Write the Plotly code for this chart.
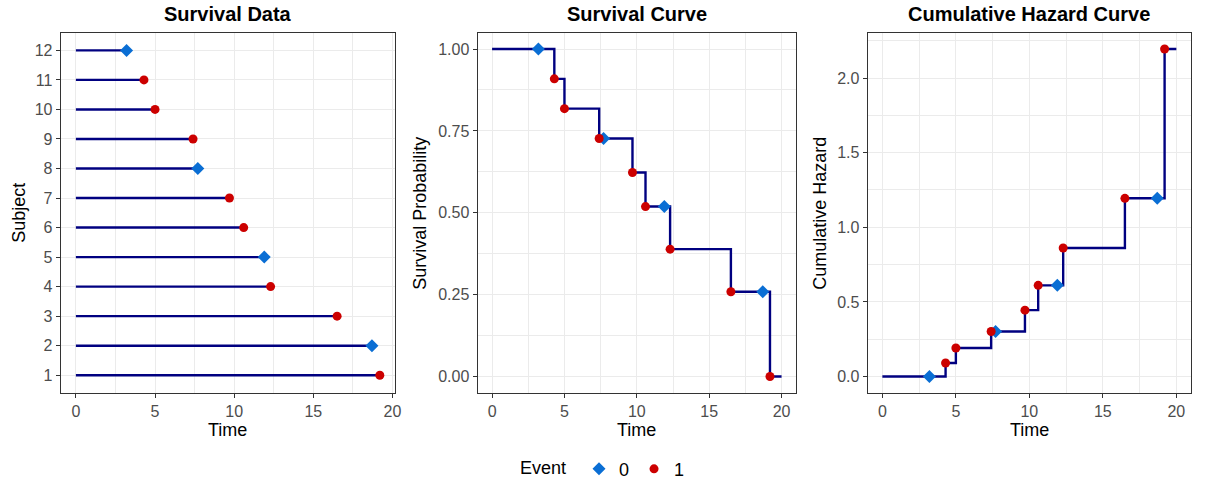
import plotly.graph_objects as go

# ---------------- data ----------------
subjects = [1, 2, 3, 4, 5, 6, 7, 8, 9, 10, 11, 12]
times = [19.2, 18.7, 16.5, 12.3, 11.9, 10.6, 9.7, 7.7, 7.4, 5.0, 4.3, 3.2]
events = [1, 0, 1, 1, 0, 1, 1, 0, 1, 1, 1, 0]

curve_time = [0, 3.2, 4.3, 5.0, 7.4, 7.7, 9.7, 10.6, 11.9, 12.3, 16.5, 18.7, 19.2, 20]
curve_surv = [1.0, 1.0, 0.909, 0.818, 0.727, 0.727, 0.623, 0.519, 0.519, 0.389, 0.259, 0.259, 0.0, 0.0]
curve_haz = [0.0, 0.0, 0.091, 0.191, 0.302, 0.302, 0.445, 0.611, 0.611, 0.861, 1.194, 1.194, 2.194, 2.194]
curve_event = [None, 0, 1, 1, 1, 0, 1, 1, 0, 1, 1, 0, 1, None]

x_ticks = [0, 5, 10, 15, 20]
surv_ticks = [0.0, 0.25, 0.5, 0.75, 1.0]
surv_tick_labels = ["0.00", "0.25", "0.50", "0.75", "1.00"]
haz_ticks = [0.0, 0.5, 1.0, 1.5, 2.0]
haz_tick_labels = ["0.0", "0.5", "1.0", "1.5", "2.0"]

# ---------------- style ----------------
W, H = 1208, 488
FONT = "Liberation Sans, Arial, sans-serif"
NAVY = "#000080"
BLUE = "#0A6ED4"
RED = "#CC0000"
GRID = "#EBEBEB"
BORDER = "#333333"
TICKTXT = "#4D4D4D"

event_style = {
    0: dict(symbol="diamond", color=BLUE, size=10),
    1: dict(symbol="circle", color=RED, size=9),
}

fig = go.Figure()

# Panel 1: segments
seg_x, seg_y = [], []
for s, t in zip(subjects, times):
    seg_x += [0, t, None]
    seg_y += [s, s, None]
fig.add_trace(go.Scatter(x=seg_x, y=seg_y, mode="lines", line=dict(color=NAVY, width=2.4),
                         showlegend=False, hoverinfo="skip", xaxis="x", yaxis="y"))

# Step curves
fig.add_trace(go.Scatter(x=curve_time, y=curve_surv, mode="lines", line=dict(color=NAVY, width=2.4, shape="hv"),
                         showlegend=False, xaxis="x2", yaxis="y2"))
fig.add_trace(go.Scatter(x=curve_time, y=curve_haz, mode="lines", line=dict(color=NAVY, width=2.4, shape="hv"),
                         showlegend=False, xaxis="x3", yaxis="y3"))

for ev in [0, 1]:
    st = event_style[ev]
    mk = dict(symbol=st["symbol"], color=st["color"], size=st["size"], line=dict(width=0))
    xs = [t for t, e in zip(times, events) if e == ev]
    ys = [s for s, e in zip(subjects, events) if e == ev]
    fig.add_trace(go.Scatter(x=xs, y=ys, mode="markers", marker=mk, name=str(ev),
                             legendgroup=str(ev), showlegend=True, xaxis="x", yaxis="y"))
    cx = [t for t, e in zip(curve_time, curve_event) if e == ev]
    cs = [v for v, e in zip(curve_surv, curve_event) if e == ev]
    ch = [v for v, e in zip(curve_haz, curve_event) if e == ev]
    fig.add_trace(go.Scatter(x=cx, y=cs, mode="markers", marker=mk, name=str(ev),
                             legendgroup=str(ev), showlegend=False, xaxis="x2", yaxis="y2"))
    fig.add_trace(go.Scatter(x=cx, y=ch, mode="markers", marker=mk, name=str(ev),
                             legendgroup=str(ev), showlegend=False, xaxis="x3", yaxis="y3"))

# domains in pixels
panels = [(61, 397), (480, 800), (872, 1197)]
top, bottom = 33, 397
ydom = [1 - bottom / H, 1 - top / H]


def axis_common():
    return dict(
        showgrid=True, gridcolor=GRID, gridwidth=1.2, zeroline=False,
        showline=True, mirror=True, linecolor=BORDER, linewidth=1.1,
        ticks="outside", ticklen=4, tickwidth=1.1, tickcolor=BORDER,
        tickfont=dict(family=FONT, size=16, color=TICKTXT),
    )


xaxis_ranges = [[-0.96, 20.16], [-1, 21], [-1, 21]]
layout = {}
for i, (l, r) in enumerate(panels):
    sfx = "" if i == 0 else str(i + 1)
    xa = axis_common()
    xa.update(domain=[l / W, r / W], range=xaxis_ranges[i], tickvals=x_ticks,
              minor=dict(dtick=2.5, tick0=0, showgrid=True, gridcolor=GRID, gridwidth=0.7),
              anchor="y" + sfx)
    layout["xaxis" + sfx] = xa

ya1 = axis_common()
ya1.update(domain=ydom, range=[0.4, 12.6], tickvals=subjects, anchor="x")
ya2 = axis_common()
ya2.update(domain=ydom, range=[-0.05, 1.05], tickvals=surv_ticks, ticktext=surv_tick_labels, anchor="x2",
           minor=dict(dtick=0.125, tick0=0, showgrid=True, gridcolor=GRID, gridwidth=0.7))
ya3 = axis_common()
ya3.update(domain=ydom, range=[-0.1097, 2.3037], tickvals=haz_ticks, ticktext=haz_tick_labels, anchor="x3",
           minor=dict(dtick=0.25, tick0=0, showgrid=True, gridcolor=GRID, gridwidth=0.7))
layout["yaxis"] = ya1
layout["yaxis2"] = ya2
layout["yaxis3"] = ya3

fig.update_layout(**layout)

annotations = []
titles = ["Survival Data", "Survival Curve", "Cumulative Hazard Curve"]
for (l, r), t in zip(panels, titles):
    annotations.append(dict(text="<b>%s</b>" % t, x=(l + r) / 2 / W, y=1 - 14 / H, xref="paper", yref="paper",
                            xanchor="center", yanchor="middle", showarrow=False,
                            font=dict(family=FONT, size=20, color="black")))
    annotations.append(dict(text="Time", x=(l + r) / 2 / W, y=1 - 434 / H, xref="paper", yref="paper",
                            xanchor="center", yanchor="middle", showarrow=False,
                            font=dict(family=FONT, size=18, color="black")))
ytitles = [("Subject", 19), ("Survival Probability", 422), ("Cumulative Hazard", 824)]
for t, xp in ytitles:
    annotations.append(dict(text=t, x=xp / W, y=(ydom[0] + ydom[1]) / 2, xref="paper", yref="paper",
                            xanchor="center", yanchor="middle", showarrow=False, textangle=-90,
                            font=dict(family=FONT, size=18, color="black")))

fig.update_layout(
    width=W, height=H, autosize=False,
    margin=dict(l=0, r=0, t=0, b=0),
    paper_bgcolor="white", plot_bgcolor="white",
    annotations=annotations,
    font=dict(family=FONT, color="black"),
    legend=dict(orientation="h", x=607 / W, xanchor="center", y=1 - 474 / H, yanchor="middle",
                title=dict(text="Event ", font=dict(family=FONT, size=18, color="black")),
                font=dict(family=FONT, size=18, color="black"),
                bgcolor="rgba(0,0,0,0)", itemwidth=30, tracegroupgap=0),
)

fig.write_html("out.html")
